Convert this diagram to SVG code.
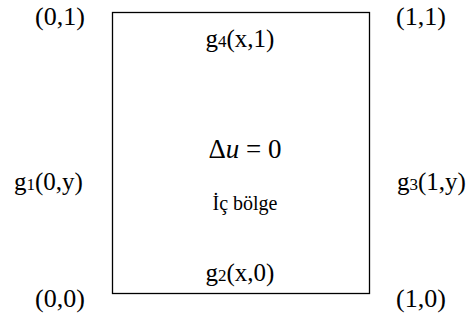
<svg xmlns="http://www.w3.org/2000/svg" width="469" height="320" viewBox="0 0 469 320" font-family="'Liberation Serif', 'Times New Roman', serif">
<style>
text{font-family:'Liberation Serif',serif;fill:#000}
.c{font-size:26px}
.g{font-size:25px}
.s{font-size:17px}
.m{font-size:27px}
.r{font-size:20px}
</style>
<rect width="469" height="320" fill="#fff"/>
<g id="region">
<rect x="112.5" y="12.5" width="257" height="281" fill="none" stroke="#000" stroke-width="1.3"/>
<text class="m" x="245" y="158" text-anchor="middle">Δ<tspan font-style="italic">u</tspan> = 0</text>
<text class="r" x="245" y="210" text-anchor="middle">İç bölge</text>
</g>
<g id="corners">
<text class="c" x="35" y="25">(0,1)</text>
<text class="c" x="396" y="25">(1,1)</text>
<text class="c" x="35" y="307">(0,0)</text>
<text class="c" x="396" y="307">(1,0)</text>
</g>
<g id="boundaries">
<text class="g" x="240" y="47" text-anchor="middle">g<tspan class="s">4</tspan>(x,1)</text>
<text class="g" x="240" y="281" text-anchor="middle">g<tspan class="s">2</tspan>(x,0)</text>
<text class="g" x="14" y="190">g<tspan class="s">1</tspan>(0,y)</text>
<text class="g" x="397" y="190">g<tspan class="s">3</tspan>(1,y)</text>
</g>
</svg>
